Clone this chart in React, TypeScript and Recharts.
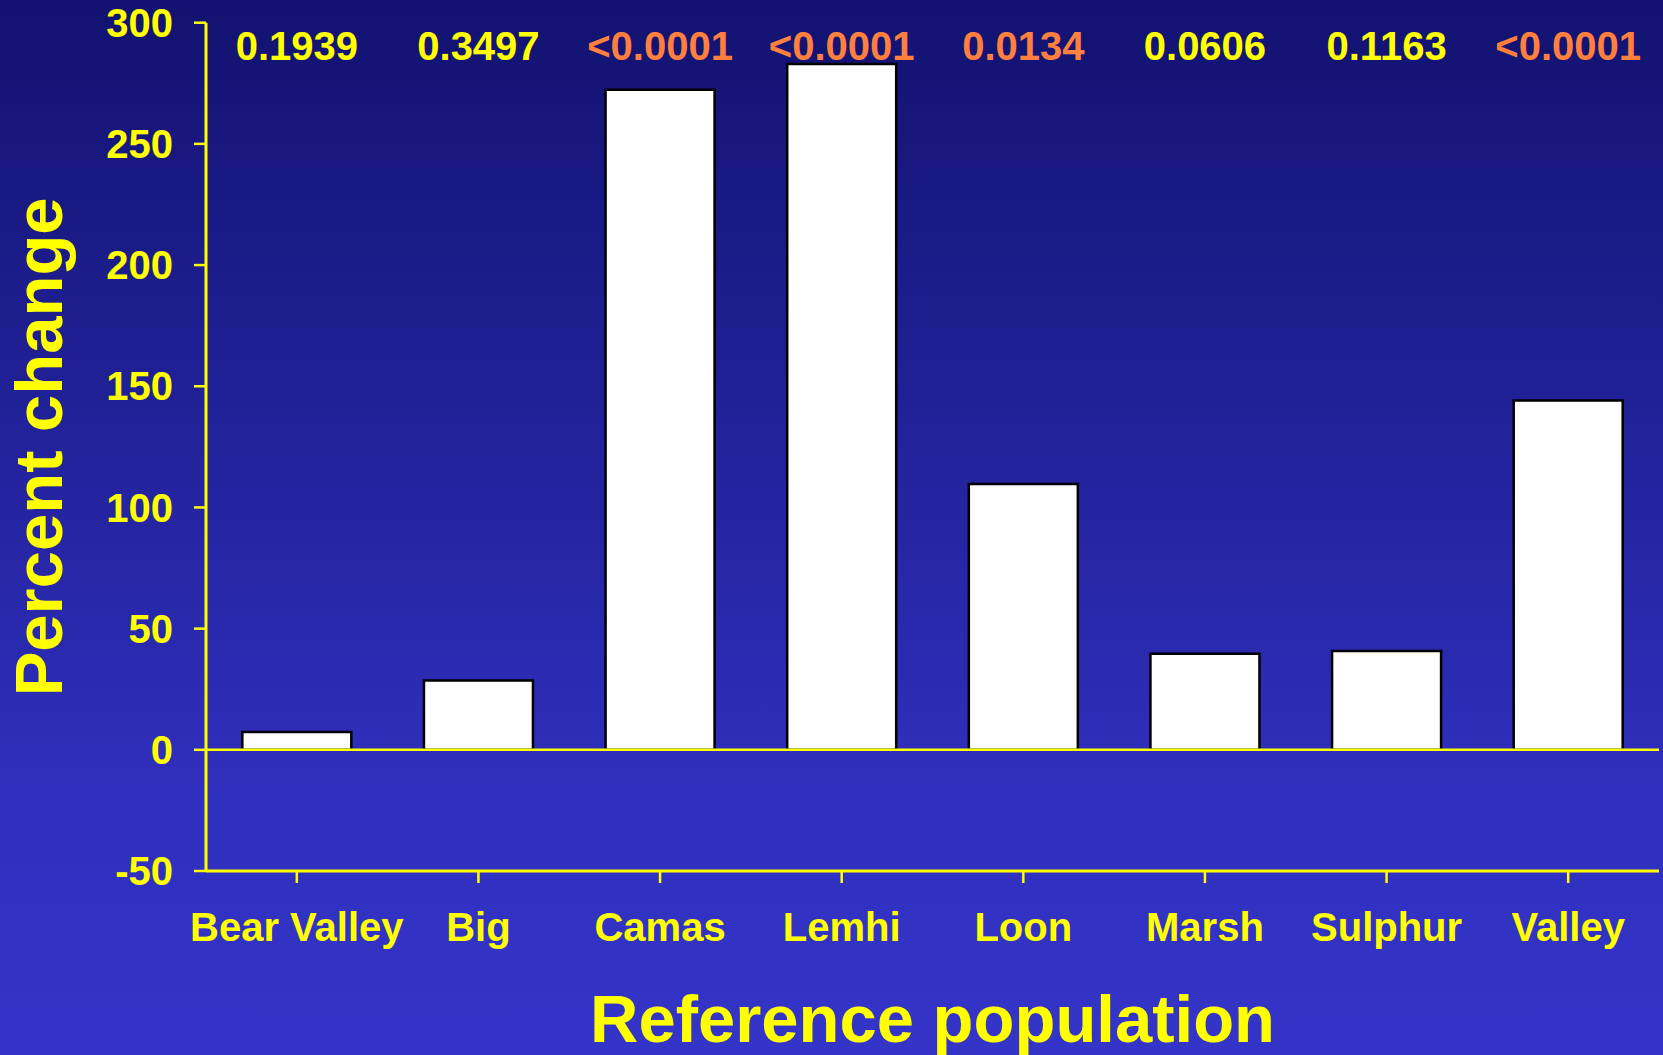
import React from 'react';
import { BarChart, Bar, XAxis, YAxis, ReferenceLine, Label } from 'recharts';

// Percent change by reference population, with the p-value for each population
const categories = ['Bear Valley', 'Big', 'Camas', 'Lemhi', 'Loon', 'Marsh', 'Sulphur', 'Valley'];
const percentChange = [7.3, 28.6, 272.3, 283, 109.7, 39.6, 40.8, 144.1];
const pValues = ['0.1939', '0.3497', '<0.0001', '<0.0001', '0.0134', '0.0606', '0.1163', '<0.0001'];
const yTicks = [-50, 0, 50, 100, 150, 200, 250, 300];

const YELLOW = '#FFFF00';
const ORANGE = '#FF7F3F';
const FONT = "Arial, 'Liberation Sans', sans-serif";
const ALPHA = 0.05;

const data = categories.map((name, i) => ({ name, value: percentChange[i], p: pValues[i] }));

const isSignificant = (p: string) => p.startsWith('<') || parseFloat(p) < ALPHA;

// p-value printed just under the top of the plot, orange when significant
function PValueTick(props: any) {
  const { x, y, payload } = props;
  const idx = categories.indexOf(String(payload.value));
  const p = pValues[idx] ?? '';
  return (
    <text
      x={x}
      y={y + 37.5}
      textAnchor="middle"
      fontSize={40}
      fontWeight="bold"
      fontFamily={FONT}
      fill={isSignificant(p) ? ORANGE : YELLOW}
    >
      {p}
    </text>
  );
}

function XTitle(props: any) {
  const vb = props.viewBox;
  return (
    <text
      x={vb.x + vb.width / 2}
      y={vb.y + 171}
      textAnchor="middle"
      fontSize={67}
      fontWeight="bold"
      fontFamily={FONT}
      fill={YELLOW}
    >
      Reference population
    </text>
  );
}

function YTitle(props: any) {
  const vb = props.viewBox;
  const cx = vb.x + 62;
  const cy = vb.y + vb.height / 2;
  return (
    <text
      x={cx}
      y={cy}
      transform={`rotate(-90 ${cx} ${cy})`}
      textAnchor="middle"
      fontSize={67}
      fontWeight="bold"
      fontFamily={FONT}
      fill={YELLOW}
    >
      Percent change
    </text>
  );
}

const tickStyle = { fill: YELLOW, fontSize: 40, fontWeight: 'bold', fontFamily: FONT };

export default function App() {
  return (
    <div
      style={{
        position: 'absolute',
        left: 0,
        top: 0,
        width: 1663,
        height: 1055,
        background: 'linear-gradient(to bottom, #121270 0%, #2f2fbd 75%, #3434c8 100%)',
      }}
    >
      <BarChart
        width={1663}
        height={1055}
        data={data}
        margin={{ top: 0, right: 4, bottom: 0, left: 0 }}
        barCategoryGap="20%"
        style={{ fontFamily: FONT }}
      >
        <XAxis
          xAxisId="p"
          orientation="top"
          dataKey="name"
          height={22.7}
          axisLine={false}
          tickLine={false}
          tickSize={0}
          tickMargin={0}
          interval={0}
          tick={<PValueTick />}
        />
        <XAxis
          dataKey="name"
          height={184}
          interval={0}
          axisLine={{ stroke: YELLOW, strokeWidth: 3 }}
          tickLine={{ stroke: YELLOW, strokeWidth: 2.5 }}
          tickSize={12}
          tickMargin={30}
          tick={tickStyle}
        >
          <Label content={<XTitle />} />
        </XAxis>
        <YAxis
          width={206}
          domain={[-50, 300]}
          ticks={yTicks}
          interval={0}
          allowDataOverflow
          axisLine={{ stroke: YELLOW, strokeWidth: 3 }}
          tickLine={{ stroke: YELLOW, strokeWidth: 2.5 }}
          tickSize={12}
          tickMargin={21}
          tick={tickStyle}
        >
          <Label content={<YTitle />} />
        </YAxis>
        <Bar dataKey="value" fill="#FFFFFF" stroke="#000000" strokeWidth={2.5} isAnimationActive={false} />
        <ReferenceLine y={0} stroke={YELLOW} strokeWidth={2.5} />
      </BarChart>
    </div>
  );
}
